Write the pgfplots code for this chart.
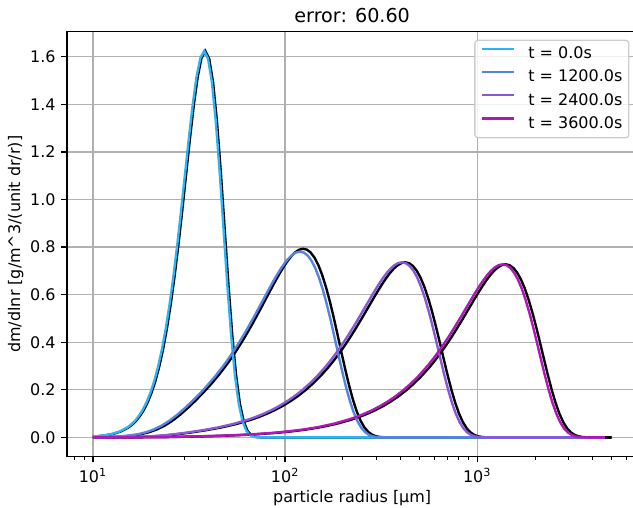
\documentclass[border=0pt]{standalone}
\usepackage{fontspec}
\setmainfont{DejaVu Sans}
\usepackage{pgfplots}
\pgfplotsset{compat=1.18}
\usepackage{pgfplotstable}
\definecolor{cA}{RGB}{41,182,246}
\definecolor{cB}{RGB}{86,130,228}
\definecolor{cC}{RGB}{138,88,214}
\definecolor{cD}{RGB}{178,22,186}
\definecolor{gridc}{RGB}{176,176,176}
\definecolor{legc}{RGB}{204,204,204}

% analytic (black) curves, w = log10(r / um)
\pgfplotstableread{
w y
1.00000 0.0036
1.02508 0.0050
1.06508 0.0086
1.10508 0.0147
1.14508 0.0250
1.18508 0.0421
1.20508 0.0545
1.22508 0.0703
1.24508 0.0904
1.26508 0.1159
1.28508 0.1479
1.30508 0.1878
1.32508 0.2372
1.34508 0.2976
1.36508 0.3708
1.38508 0.4581
1.40508 0.5606
1.42508 0.6785
1.44508 0.8109
1.46508 0.9550
1.48508 1.1062
1.50508 1.2570
1.52508 1.3973
1.54508 1.5145
1.56508 1.5947
1.58508 1.6240
1.60508 1.5918
1.62508 1.4933
1.64508 1.3320
1.66508 1.1213
1.68508 0.8833
1.70508 0.6447
1.72508 0.4311
1.74508 0.2607
1.76508 0.1404
1.78508 0.0663
1.80508 0.0269
1.82508 0.0091
1.84508 0.0025
1.86508 0.0006
1.90000 0
3.69897 0
}\kA
\pgfplotstableread{
w y
1.00000 0.00057
1.05346 0.00117
1.09346 0.00197
1.13346 0.00330
1.17346 0.00546
1.21346 0.00891
1.25346 0.01425
1.29346 0.02228
1.33346 0.03386
1.37346 0.04973
1.41346 0.07027
1.45346 0.09518
1.49346 0.12359
1.53346 0.15444
1.57346 0.18747
1.61346 0.22284
1.65346 0.26105
1.69346 0.30296
1.71346 0.32544
1.73346 0.34898
1.75346 0.37360
1.77346 0.39929
1.79346 0.42604
1.81346 0.45379
1.83346 0.48246
1.85346 0.51192
1.87346 0.54202
1.89346 0.57251
1.91346 0.60313
1.93346 0.63349
1.95346 0.66316
1.97346 0.69159
1.99346 0.71814
2.01346 0.74204
2.03346 0.76246
2.05346 0.77844
2.07346 0.78895
2.09346 0.79292
2.11346 0.78928
2.13346 0.77705
2.15346 0.75538
2.17346 0.72375
2.19346 0.68200
2.21346 0.63048
2.23346 0.57023
2.25346 0.50292
2.27346 0.43092
2.29346 0.35719
2.31346 0.28501
2.33346 0.21770
2.35346 0.15815
2.37346 0.10845
2.39346 0.06961
2.41346 0.04141
2.43346 0.02259
2.45346 0.01114
2.47346 0.00490
2.49346 0.00189
2.51346 0.00063
2.53346 0.00017
2.56000 0
3.69897 0
}\kB
\pgfplotstableread{
w y
1.00000 0.0001
1.10538 0.00038
1.18538 0.00103
1.26538 0.00263
1.34538 0.00604
1.42538 0.01199
1.50538 0.02020
1.58538 0.02991
1.66538 0.04150
1.74538 0.05615
1.82538 0.07502
1.86538 0.08646
1.90538 0.09953
1.94538 0.11444
1.98538 0.13147
2.02538 0.15088
2.06538 0.17298
2.10538 0.19812
2.14538 0.22662
2.18538 0.25882
2.22538 0.29501
2.24538 0.31469
2.26538 0.33543
2.28538 0.35726
2.30538 0.38014
2.32538 0.40407
2.34538 0.42899
2.36538 0.45480
2.38538 0.48140
2.40538 0.50862
2.42538 0.53625
2.44538 0.56404
2.46538 0.59162
2.48538 0.61859
2.50538 0.64445
2.52538 0.66858
2.54538 0.69029
2.56538 0.70880
2.58538 0.72323
2.60538 0.73262
2.62538 0.73598
2.64538 0.73236
2.66538 0.72077
2.68538 0.70047
2.70538 0.67097
2.72538 0.63212
2.74538 0.58426
2.76538 0.52833
2.78538 0.46589
2.80538 0.39915
2.82538 0.33081
2.84538 0.26394
2.86538 0.20158
2.88538 0.14643
2.90538 0.10041
2.92538 0.06445
2.94538 0.03834
2.96538 0.02090
2.98538 0.01031
3.00538 0.00453
3.02538 0.00175
3.04538 0.00058
3.06538 0.00016
3.09000 0
3.69897 0
}\kC
\pgfplotstableread{
w y
1.00000 0.00002
1.22821 0.00028
1.38821 0.00146
1.54821 0.00410
1.62821 0.00583
1.70821 0.00795
1.78821 0.01068
1.86821 0.01423
1.94821 0.01886
2.02821 0.02495
2.10821 0.03295
2.18821 0.04346
2.26821 0.05730
2.34821 0.07549
2.38821 0.08664
2.42821 0.09940
2.46821 0.11401
2.50821 0.13072
2.54821 0.14980
2.58821 0.17156
2.62821 0.19634
2.66821 0.22445
2.70821 0.25622
2.74821 0.29195
2.76821 0.31138
2.78821 0.33186
2.80821 0.35341
2.82821 0.37601
2.84821 0.39965
2.86821 0.42426
2.88821 0.44976
2.90821 0.47604
2.92821 0.50294
2.94821 0.53024
2.96821 0.55768
2.98821 0.58494
3.00821 0.61159
3.02821 0.63713
3.04821 0.66097
3.06821 0.68243
3.08821 0.70073
3.10821 0.71498
3.12821 0.72425
3.14821 0.72756
3.16821 0.72393
3.18821 0.71246
3.20821 0.69239
3.22821 0.66322
3.24821 0.62481
3.26821 0.57751
3.28821 0.52223
3.30821 0.46051
3.32821 0.39454
3.34821 0.32699
3.36821 0.26089
3.38821 0.19926
3.40821 0.14474
3.42821 0.09925
3.44821 0.06370
3.46821 0.03790
3.48821 0.02066
3.50821 0.01019
3.52821 0.00448
3.54821 0.00173
3.56821 0.00057
3.58821 0.00016
3.61000 0
3.69897 0
}\kD

% numerical (coloured) curves
\pgfplotstableread{
w y
1.00000 0.0039
1.01908 0.0050
1.05908 0.0086
1.09908 0.0147
1.13908 0.0250
1.17908 0.0421
1.19908 0.0545
1.21908 0.0703
1.23908 0.0904
1.25908 0.1159
1.27908 0.1479
1.29908 0.1878
1.31908 0.2372
1.33908 0.2976
1.35908 0.3708
1.37908 0.4581
1.39908 0.5606
1.41908 0.6785
1.43908 0.8109
1.45908 0.9550
1.47908 1.1062
1.49908 1.2570
1.51908 1.3973
1.53908 1.5145
1.55908 1.5947
1.57908 1.6240
1.59908 1.5918
1.61908 1.4933
1.63908 1.3320
1.65908 1.1213
1.67908 0.8833
1.69908 0.6447
1.71908 0.4311
1.73908 0.2607
1.75908 0.1404
1.77908 0.0663
1.79908 0.0269
1.81908 0.0091
1.83908 0.0025
1.85908 0.0006
1.90000 0
3.66500 0
}\nA
\pgfplotstableread{
w y
1.00000 0.00056
1.03646 0.00115
1.07646 0.00194
1.11646 0.00325
1.15646 0.00538
1.19646 0.00878
1.23646 0.01404
1.27646 0.02195
1.31646 0.03335
1.35646 0.04898
1.39646 0.06922
1.43646 0.09375
1.47646 0.12174
1.51646 0.15212
1.55646 0.18466
1.59646 0.21950
1.63646 0.25713
1.67646 0.29842
1.69646 0.32056
1.71646 0.34375
1.73646 0.36800
1.75646 0.39330
1.77646 0.41965
1.79646 0.44698
1.81646 0.47522
1.83646 0.50424
1.85646 0.53389
1.87646 0.56392
1.89646 0.59408
1.91646 0.62399
1.93646 0.65321
1.95646 0.68122
1.97646 0.70737
1.99646 0.73091
2.01646 0.75102
2.03646 0.76676
2.05646 0.77712
2.07646 0.78103
2.09646 0.77744
2.11646 0.76539
2.13646 0.74405
2.15646 0.71289
2.17646 0.67177
2.19646 0.62102
2.21646 0.56168
2.23646 0.49538
2.25646 0.42446
2.27646 0.35183
2.29646 0.28073
2.31646 0.21443
2.33646 0.15578
2.35646 0.10682
2.37646 0.06857
2.39646 0.04079
2.41646 0.02225
2.43646 0.01097
2.45646 0.00483
2.47646 0.00186
2.49646 0.00062
2.51646 0.00017
2.54000 0
3.66500 0
}\nB
\pgfplotstableread{
w y
1.00000 0.0001
1.08838 0.00038
1.16838 0.00103
1.24838 0.00263
1.32838 0.00604
1.40838 0.01199
1.48838 0.02020
1.56838 0.02991
1.64838 0.04150
1.72838 0.05615
1.80838 0.07502
1.84838 0.08646
1.88838 0.09953
1.92838 0.11444
1.96838 0.13147
2.00838 0.15088
2.04838 0.17298
2.08838 0.19812
2.12838 0.22662
2.16838 0.25882
2.20838 0.29501
2.22838 0.31469
2.24838 0.33543
2.26838 0.35726
2.28838 0.38014
2.30838 0.40407
2.32838 0.42899
2.34838 0.45480
2.36838 0.48140
2.38838 0.50862
2.40838 0.53625
2.42838 0.56404
2.44838 0.59162
2.46838 0.61859
2.48838 0.64445
2.50838 0.66858
2.52838 0.69029
2.54838 0.70880
2.56838 0.72323
2.58838 0.73262
2.60838 0.73598
2.62838 0.73236
2.64838 0.72077
2.66838 0.70047
2.68838 0.67097
2.70838 0.63212
2.72838 0.58426
2.74838 0.52833
2.76838 0.46589
2.78838 0.39915
2.80838 0.33081
2.82838 0.26394
2.84838 0.20158
2.86838 0.14643
2.88838 0.10041
2.90838 0.06445
2.92838 0.03834
2.94838 0.02090
2.96838 0.01031
2.98838 0.00453
3.00838 0.00175
3.02838 0.00058
3.04838 0.00016
3.07000 0
3.66500 0
}\nC
\pgfplotstableread{
w y
1.00000 0.00002
1.21221 0.00028
1.37221 0.00146
1.53221 0.00410
1.61221 0.00583
1.69221 0.00795
1.77221 0.01068
1.85221 0.01423
1.93221 0.01886
2.01221 0.02495
2.09221 0.03295
2.17221 0.04346
2.25221 0.05730
2.33221 0.07549
2.37221 0.08664
2.41221 0.09940
2.45221 0.11401
2.49221 0.13072
2.53221 0.14980
2.57221 0.17156
2.61221 0.19634
2.65221 0.22445
2.69221 0.25622
2.73221 0.29195
2.75221 0.31138
2.77221 0.33186
2.79221 0.35341
2.81221 0.37601
2.83221 0.39965
2.85221 0.42426
2.87221 0.44976
2.89221 0.47604
2.91221 0.50294
2.93221 0.53024
2.95221 0.55768
2.97221 0.58494
2.99221 0.61159
3.01221 0.63713
3.03221 0.66097
3.05221 0.68243
3.07221 0.70073
3.09221 0.71498
3.11221 0.72425
3.13221 0.72756
3.15221 0.72393
3.17221 0.71246
3.19221 0.69239
3.21221 0.66322
3.23221 0.62481
3.25221 0.57751
3.27221 0.52223
3.29221 0.46051
3.31221 0.39454
3.33221 0.32699
3.35221 0.26089
3.37221 0.19926
3.39221 0.14474
3.41221 0.09925
3.43221 0.06370
3.45221 0.03790
3.47221 0.02066
3.49221 0.01019
3.51221 0.00448
3.53221 0.00173
3.55221 0.00057
3.57221 0.00016
3.66500 0
}\nD

\begin{document}
\begin{tikzpicture}
\begin{axis}[
  at={(41.95bp,31.47bp)}, anchor=south west,
  scale only axis, width=357.12bp, height=266.11bp,
  xmode=log, log basis x=10,
  xmin=7.3282, xmax=6822.8,
  ymin=-0.0812, ymax=1.7052,
  xtick={10,100,1000},
  xticklabels={10\textsuperscript{1},10\textsuperscript{2},10\textsuperscript{3}},
  minor xtick={8,9,20,30,40,50,60,70,80,90,200,300,400,500,600,700,800,900,2000,3000,4000,5000,6000},
  ytick={0,0.2,0.4,0.6,0.8,1.0,1.2,1.4,1.6},
  yticklabels={0.0,0.2,0.4,0.6,0.8,1.0,1.2,1.4,1.6},
  grid=major,
  major grid style={gridc, line width=0.8bp},
  tick align=outside, tick pos=left,
  major tick length=3.5bp, minor tick length=2bp,
  major tick style={black, line width=0.8bp},
  minor tick style={black, line width=0.6bp},
  axis line style={black, line width=0.8bp},
  tick label style={font=\fontsize{10bp}{12bp}\selectfont},
  xticklabel style={inner sep=0pt, anchor=north, yshift=-3.5bp},
  yticklabel style={inner sep=0pt, anchor=east, xshift=-3.5bp},
  label style={font=\fontsize{10bp}{12bp}\selectfont},
  every axis title shift=0pt,
  title={error: 60.60},
  title style={at={(axis description cs:0.5,1.02255)}, anchor=base, inner sep=0pt, font=\fontsize{12bp}{14bp}\selectfont},
  xlabel={particle radius [µm]},
  xlabel style={at={(axis description cs:0.5,-0.10747)}, anchor=base, inner sep=0pt},
  ylabel={dm/dlnr [g/m\textasciicircum 3/(unit dr/r)]},
  ylabel style={at={(axis description cs:-0.08205,0.5)}, anchor=base, inner sep=0pt},
  legend cell align=left,
  legend image code/.code={\draw[#1, line width=1.5bp] (0bp,3.4bp) -- (20bp,3.4bp);},
  legend style={at={(axis description cs:1,1)}, anchor=north east,
    xshift=-5bp, yshift=-5bp, draw=legc, line width=0.8bp,
    fill=white, fill opacity=0.8, text opacity=1, rounded corners=2bp,
    inner sep=4bp, row sep=5bp, column sep=8bp,
    font=\fontsize{10bp}{12bp}\selectfont,
    nodes={inner sep=0pt, text height=7.5bp, text depth=2bp}},
]
\addplot[black, line width=1.5bp, forget plot] table[x expr={10^(\thisrow{w})}, y=y] {\kA};
\addplot[black, line width=1.5bp, forget plot] table[x expr={10^(\thisrow{w})}, y=y] {\kB};
\addplot[black, line width=1.5bp, forget plot] table[x expr={10^(\thisrow{w})}, y=y] {\kC};
\addplot[black, line width=1.5bp, forget plot] table[x expr={10^(\thisrow{w})}, y=y] {\kD};
\addplot[cA, line width=1.5bp] table[x expr={10^(\thisrow{w})}, y=y] {\nA};
\addlegendentry{t = 0.0s}
\addplot[cB, line width=1.5bp] table[x expr={10^(\thisrow{w})}, y=y] {\nB};
\addlegendentry{t = 1200.0s}
\addplot[cC, line width=1.5bp] table[x expr={10^(\thisrow{w})}, y=y] {\nC};
\addlegendentry{t = 2400.0s}
\addplot[cD, line width=1.5bp] table[x expr={10^(\thisrow{w})}, y=y] {\nD};
\addlegendentry{t = 3600.0s}
\end{axis}
\pgfresetboundingbox
\useasboundingbox (0bp,0bp) rectangle (396.31bp,317.43bp);
\end{tikzpicture}
\end{document}
